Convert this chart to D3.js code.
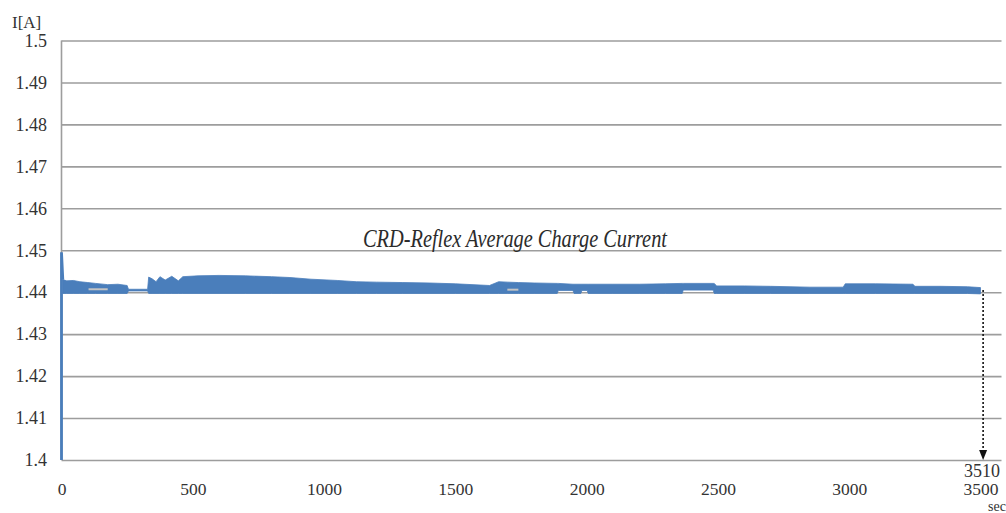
<!DOCTYPE html>
<html>
<head>
<meta charset="utf-8">
<script src="https://cdn.jsdelivr.net/npm/d3@7"></script>
<style>
  body { margin: 0; background: #fff; }
  svg { display: block; }
</style>
</head>
<body>
<div id="chart"></div>
<script>
// axis ticks
const yTicks = [1.4, 1.41, 1.42, 1.43, 1.44, 1.45, 1.46, 1.47, 1.48, 1.49, 1.5];
const yTickLabels = ["1.4", "1.41", "1.42", "1.43", "1.44", "1.45", "1.46", "1.47", "1.48", "1.49", "1.5"];
const xTicks = [0, 500, 1000, 1500, 2000, 2500, 3000, 3500];
const xTickLabels = ["0", "500", "1000", "1500", "2000", "2500", "3000", "3500"];

// start-up spike of the current
const spikeSec = [0, 0, 5];
const spikeA = [1.4, 1.4495, 1.4430];

// envelope of the noisy current trace
const bandSec = [5, 20, 45, 70, 100, 130, 176, 215, 250, 255, 300, 328, 332, 345, 360, 375, 395, 420, 445, 462,
  520, 600, 700, 800, 870, 950, 1050, 1123, 1200, 1300, 1400, 1500, 1630, 1665, 1700, 1740, 1800, 1888, 1892,
  1948, 1952, 1978, 1982, 2002, 2006, 2100, 2200, 2300, 2364, 2368, 2482, 2486, 2495, 2600, 2700, 2850, 2977,
  2985, 3100, 3243, 3250, 3350, 3450, 3500];
const bandUpper = [1.4430, 1.4427, 1.4428, 1.4425, 1.4423, 1.4421, 1.4418, 1.4419, 1.4416, 1.4407, 1.4407, 1.4407,
  1.4436, 1.4432, 1.4425, 1.4437, 1.4429, 1.4438, 1.4427, 1.4437, 1.4439, 1.4440, 1.4439, 1.4437, 1.4435, 1.4431,
  1.4428, 1.4425, 1.4424, 1.4423, 1.4422, 1.4420, 1.4416, 1.4425, 1.4424, 1.4423, 1.4422, 1.4421, 1.4421, 1.4419,
  1.4419, 1.4419, 1.4419, 1.4419, 1.4419, 1.4419, 1.4419, 1.4420, 1.4421, 1.4421, 1.4421, 1.4421, 1.4415, 1.4415,
  1.4414, 1.4412, 1.4412, 1.4420, 1.4420, 1.4419, 1.4414, 1.4414, 1.4413, 1.4411];
const bandLower = [1.4397, 1.4397, 1.4397, 1.4397, 1.4397, 1.4397, 1.4397, 1.4397, 1.4397, 1.4403, 1.4403, 1.4403,
  1.4397, 1.4397, 1.4397, 1.4397, 1.4397, 1.4397, 1.4397, 1.4397, 1.4397, 1.4397, 1.4397, 1.4397, 1.4397, 1.4397,
  1.4397, 1.4397, 1.4397, 1.4397, 1.4397, 1.4397, 1.4397, 1.4397, 1.4397, 1.4397, 1.4397, 1.4397, 1.4404, 1.4404,
  1.4397, 1.4397, 1.4404, 1.4404, 1.4397, 1.4397, 1.4397, 1.4397, 1.4397, 1.4405, 1.4405, 1.4397, 1.4397, 1.4397,
  1.4397, 1.4397, 1.4397, 1.4397, 1.4397, 1.4397, 1.4397, 1.4397, 1.4397, 1.4396];

// short lighter streaks inside the band
const gapStart = [103, 1698];
const gapEnd = [176, 1740];
const gapA = [1.4407, 1.4406];

// end marker
const endSec = 3510;
const endA = 1.4405;
const endLabel = "3510";

const titleText = "CRD-Reflex Average Charge Current";
const yUnit = "I[A]";
const xUnit = "sec";

const width = 1006, height = 513;
const plot = { left: 61.5, right: 1001.5, top: 40.5, bottom: 460 };
const font = "'Liberation Serif', 'Times New Roman', serif";
const gridColor = "#9d9d9d";
const blue = "#4a7ebb";

const xScale = d3.scaleLinear().domain([0, 3580]).range([plot.left, plot.right]);
const yScale = d3.scaleLinear().domain([1.4, 1.5]).range([plot.bottom, plot.top]);

const svg = d3.select("#chart").append("svg")
  .attr("width", width)
  .attr("height", height)
  .style("background", "#fff");

// y axis with gridlines
const yAxis = svg.append("g")
  .attr("transform", `translate(${plot.left},0)`)
  .call(d3.axisLeft(yScale)
    .tickValues(yTicks)
    .tickSize(-(plot.right - plot.left))
    .tickPadding(14.5)
    .tickFormat((d, i) => yTickLabels[i]));
yAxis.select(".domain").remove();
yAxis.selectAll(".tick line").attr("stroke", gridColor).attr("stroke-width", 1.6);
yAxis.selectAll(".tick text")
  .attr("fill", "#333")
  .style("font-family", font)
  .style("font-size", "18px");

// x axis labels only
const xAxis = svg.append("g")
  .attr("transform", `translate(0,${plot.bottom})`)
  .call(d3.axisBottom(xScale)
    .tickValues(xTicks)
    .tickSize(0)
    .tickPadding(23)
    .tickFormat((d, i) => xTickLabels[i]));
xAxis.select(".domain").remove();
xAxis.selectAll(".tick text")
  .attr("fill", "#333")
  .style("font-family", font)
  .style("font-size", "17.5px");

// left axis line
svg.append("line")
  .attr("x1", plot.left).attr("x2", plot.left)
  .attr("y1", plot.top).attr("y2", plot.bottom)
  .attr("stroke", gridColor)
  .attr("stroke-width", 1.6);

// chart title inside the plot
svg.append("text")
  .attr("x", 515)
  .attr("y", 246.5)
  .attr("text-anchor", "middle")
  .attr("textLength", 304)
  .attr("lengthAdjust", "spacingAndGlyphs")
  .attr("fill", "#2b2b2b")
  .style("font-family", font)
  .style("font-style", "italic")
  .style("font-size", "26px")
  .text(titleText);

// noisy current band
const bandData = bandSec.map((t, i) => ({ t: t, hi: bandUpper[i], lo: bandLower[i] }));
const area = d3.area()
  .x(d => xScale(d.t))
  .y0(d => yScale(d.lo))
  .y1(d => yScale(d.hi));
svg.append("path")
  .datum(bandData)
  .attr("d", area)
  .attr("fill", blue)
  .attr("stroke", blue)
  .attr("stroke-width", 0.8);

// lighter streaks
svg.append("g").selectAll("line")
  .data(gapA)
  .enter()
  .append("line")
  .attr("x1", (d, i) => xScale(gapStart[i]))
  .attr("x2", (d, i) => xScale(gapEnd[i]))
  .attr("y1", d => yScale(d))
  .attr("y2", d => yScale(d))
  .attr("stroke", "#c4c4c4")
  .attr("stroke-width", 2);

// spike at switch-on
const spikeData = spikeSec.map((t, i) => ({ t: t, a: spikeA[i] }));
svg.append("path")
  .datum(spikeData)
  .attr("d", d3.line().x(d => xScale(d.t)).y(d => yScale(d.a)))
  .attr("fill", "none")
  .attr("stroke", blue)
  .attr("stroke-width", 2.8);

// dotted arrow marking the end time
const ex = xScale(endSec);
svg.append("line")
  .attr("x1", ex).attr("x2", ex)
  .attr("y1", yScale(endA))
  .attr("y2", yScale(1.4) - 8)
  .attr("stroke", "#111")
  .attr("stroke-width", 1.6)
  .attr("stroke-dasharray", "2,2");
svg.append("path")
  .attr("d", `M${ex - 4},${yScale(1.4) - 10}L${ex + 4},${yScale(1.4) - 10}L${ex},${yScale(1.4)}Z`)
  .attr("fill", "#111");
svg.append("text")
  .attr("x", ex - 1)
  .attr("y", yScale(1.4) + 17)
  .attr("text-anchor", "middle")
  .attr("fill", "#333")
  .style("font-family", font)
  .style("font-size", "18px")
  .text(endLabel);

// unit labels
svg.append("text")
  .attr("x", 12)
  .attr("y", 28)
  .attr("fill", "#333")
  .style("font-family", font)
  .style("font-size", "17px")
  .text(yUnit);
svg.append("text")
  .attr("x", 988)
  .attr("y", 511)
  .attr("fill", "#333")
  .style("font-family", font)
  .style("font-size", "14px")
  .text(xUnit);
</script>
</body>
</html>
